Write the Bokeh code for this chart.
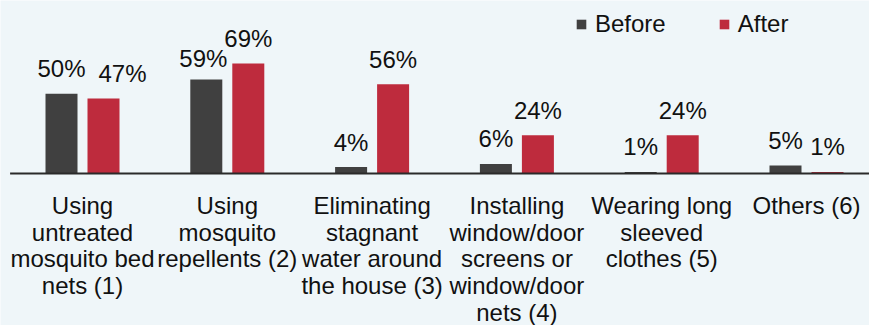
from bokeh.plotting import figure
from bokeh.models import Range1d, ColumnDataSource, Legend, LegendItem
from bokeh.embed import file_html
from bokeh.resources import INLINE
from bokeh.core.properties import value

categories = [
    "Using\nuntreated\nmosquito bed\nnets (1)",
    "Using\nmosquito\nrepellents (2)",
    "Eliminating\nstagnant\nwater around\nthe house (3)",
    "Installing\nwindow/door\nscreens or\nwindow/door\nnets (4)",
    "Wearing long\nsleeved\nclothes (5)",
    "Others (6)",
]
before = [50, 59, 4, 6, 1, 5]
after = [47, 69, 56, 24, 24, 1]
series_names = ["Before", "After"]

W, H = 869, 325
BG = "#eff6f9"
DARK = "#404040"
RED = "#be2b3d"
FONT = "Liberation Sans"
FS = "24px"

px_x = 144.8          # pixels per category
x0_px = 82            # pixel of first category centre
px_y = 1.594          # pixels per percent
base_px = 173         # baseline pixel from top

xr = Range1d(-x0_px / px_x, (W - x0_px) / px_x)
yr = Range1d(-(H - base_px) / px_y, base_px / px_y)

p = figure(width=W, height=H, x_range=xr, y_range=yr, output_backend="svg",
           toolbar_location=None, min_border=0)
p.axis.visible = False
p.grid.visible = False
p.outline_line_color = None
p.background_fill_color = BG
p.border_fill_color = BG

xs = list(range(len(categories)))
off = 21 / px_x
bw = 32 / px_x

src_b = ColumnDataSource(dict(x=[x - off for x in xs], top=before,
                              lbl=[f"{v}%" for v in before]))
src_a = ColumnDataSource(dict(x=[x + off for x in xs], top=after,
                              lbl=[f"{v}%" for v in after]))

rb = p.vbar(x="x", top="top", bottom=0, width=bw, source=src_b,
            fill_color=DARK, line_color=None)
ra = p.vbar(x="x", top="top", bottom=0, width=bw, source=src_a,
            fill_color=RED, line_color=None)

# baseline
p.line(x=[-0.5, len(categories) - 0.5], y=[0, 0], line_color="#2a2a2a", line_width=2)

# value labels (small manual nudges in pixels, as in the original chart)
gap = 25 / px_y
nudge_before_x = [0, -3, 0, 0, 0, 0]
nudge_before_y = [0, -4, 0, 0, 0, 0]
nudge_after_x = [19, 0, 0, 0, 0, 0]
lb = ColumnDataSource(dict(
    x=[x + n / px_x for x, n in zip(src_b.data["x"], nudge_before_x)],
    y=[v + gap + n / px_y for v, n in zip(before, nudge_before_y)],
    t=src_b.data["lbl"]))
la = ColumnDataSource(dict(
    x=[x + n / px_x for x, n in zip(src_a.data["x"], nudge_after_x)],
    y=[v + gap for v in after], t=src_a.data["lbl"]))
for s in (lb, la):
    p.text(x="x", y="y", text="t", source=s, text_align="center",
           text_baseline="alphabetic", text_font=value(FONT),
           text_font_size=FS, text_color="#111111")

# category labels, line by line
first_base = 32 / px_y
line_step = 26.7 / px_y
cx, cy, ct = [], [], []
for i, c in enumerate(categories):
    for j, ln in enumerate(c.split("\n")):
        cx.append(i)
        cy.append(-first_base - j * line_step)
        ct.append(ln)
p.text(x=cx, y=cy, text=ct, text_align="center", text_baseline="alphabetic",
       text_font=value(FONT), text_font_size=FS, text_color="#111111")

legend = Legend(items=[LegendItem(label=series_names[0], renderers=[rb]),
                       LegendItem(label=series_names[1], renderers=[ra])],
                orientation="horizontal", location=(575, H - 38),
                glyph_width=12, glyph_height=12, label_standoff=8, spacing=52,
                padding=0, margin=0, border_line_color=None,
                background_fill_alpha=0, label_text_font=FONT,
                label_text_font_size=FS, label_text_color="#111111")
p.add_layout(legend, "center")

open("out.html", "w").write(file_html(p, INLINE))
